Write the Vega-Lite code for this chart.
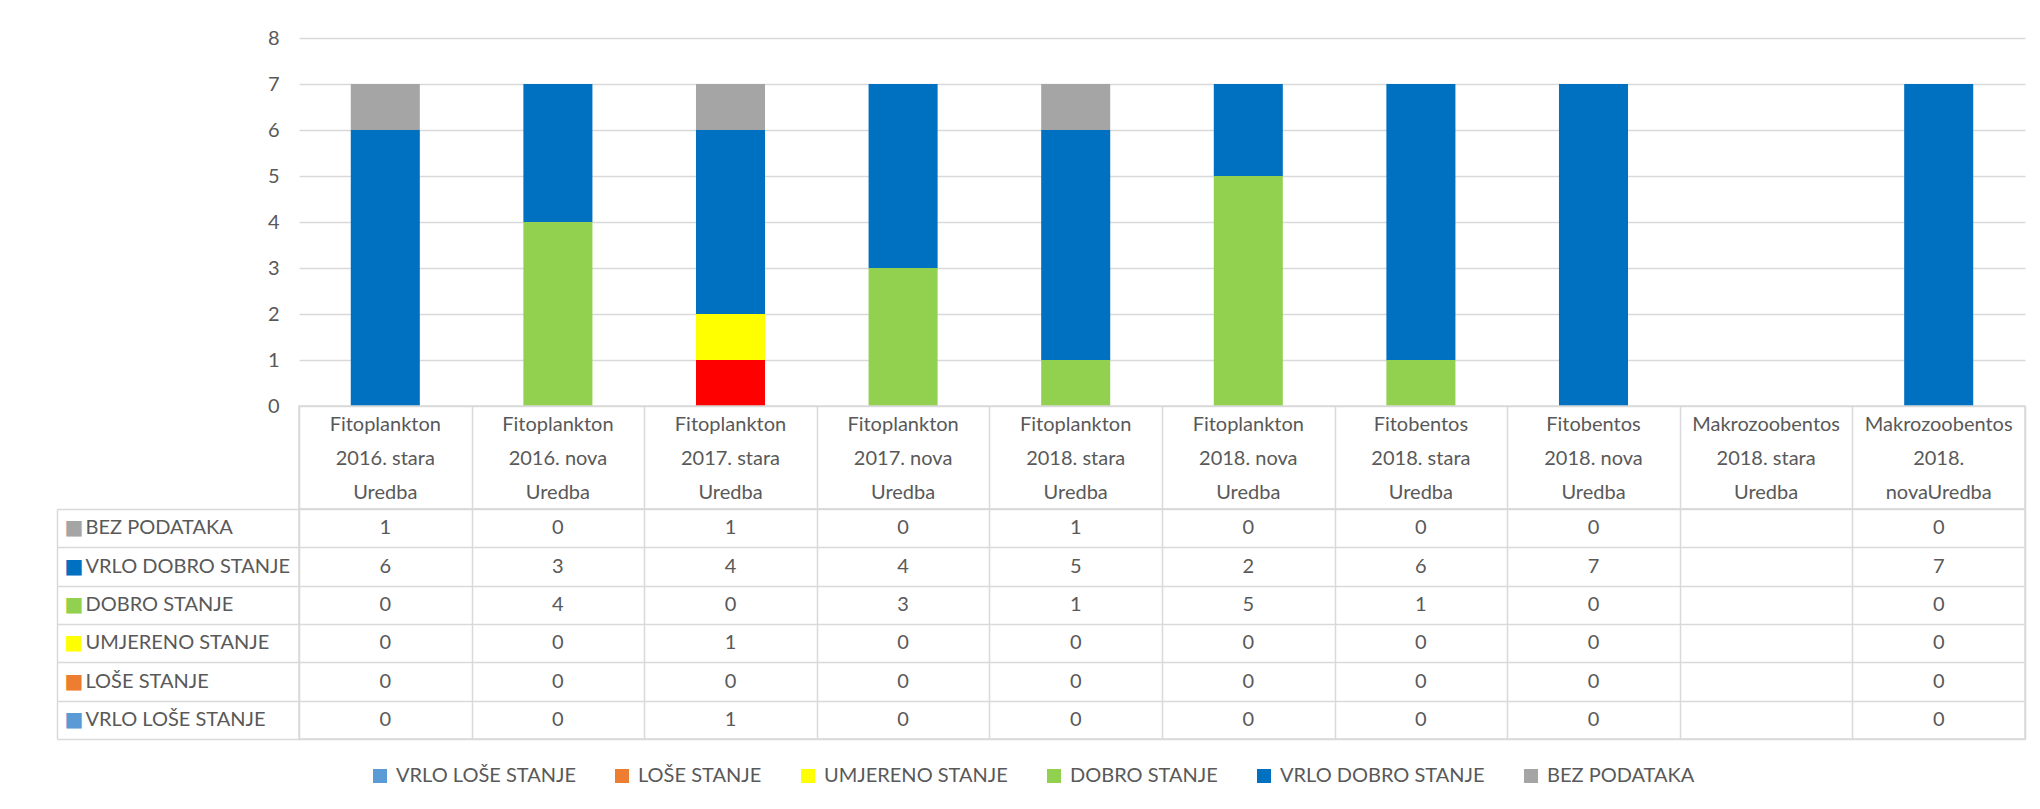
{
  "$schema": "https://vega.github.io/schema/vega-lite/v6.json",
  "padding": {"left": 55, "top": 28, "right": 10, "bottom": 10},
  "bounds": "flush",
  "spacing": 0,
  "config": {
    "font": "Lato",
    "view": {"stroke": "#d9d9d9", "strokeWidth": 1.5},
    "axis": {"labelFont": "Lato", "labelColor": "#595959", "labelFontSize": 20, "labelLimit": 400},
    "legend": {"labelFont": "Lato", "labelColor": "#595959", "labelFontSize": 20, "labelLimit": 400}
  },
  "datasets": {
    "cats": [
      {"cat": "Fitoplankton\n2016. stara\nUredba"},
      {"cat": "Fitoplankton\n2016. nova\nUredba"},
      {"cat": "Fitoplankton\n2017. stara\nUredba"},
      {"cat": "Fitoplankton\n2017. nova\nUredba"},
      {"cat": "Fitoplankton\n2018. stara\nUredba"},
      {"cat": "Fitoplankton\n2018. nova\nUredba"},
      {"cat": "Fitobentos\n2018. stara\nUredba"},
      {"cat": "Fitobentos\n2018. nova\nUredba"},
      {"cat": "Makrozoobentos\n2018. stara\nUredba"},
      {"cat": "Makrozoobentos\n2018.\nnovaUredba"}
    ],
    "d": [
      {"cat": "Fitoplankton\n2016. stara\nUredba", "series": "BEZ PODATAKA", "value": 1},
      {"cat": "Fitoplankton\n2016. stara\nUredba", "series": "VRLO DOBRO STANJE", "value": 6},
      {"cat": "Fitoplankton\n2016. stara\nUredba", "series": "DOBRO STANJE", "value": 0},
      {"cat": "Fitoplankton\n2016. stara\nUredba", "series": "UMJERENO STANJE", "value": 0},
      {"cat": "Fitoplankton\n2016. stara\nUredba", "series": "LOŠE STANJE", "value": 0},
      {"cat": "Fitoplankton\n2016. stara\nUredba", "series": "VRLO LOŠE STANJE", "value": 0},
      {"cat": "Fitoplankton\n2016. nova\nUredba", "series": "BEZ PODATAKA", "value": 0},
      {"cat": "Fitoplankton\n2016. nova\nUredba", "series": "VRLO DOBRO STANJE", "value": 3},
      {"cat": "Fitoplankton\n2016. nova\nUredba", "series": "DOBRO STANJE", "value": 4},
      {"cat": "Fitoplankton\n2016. nova\nUredba", "series": "UMJERENO STANJE", "value": 0},
      {"cat": "Fitoplankton\n2016. nova\nUredba", "series": "LOŠE STANJE", "value": 0},
      {"cat": "Fitoplankton\n2016. nova\nUredba", "series": "VRLO LOŠE STANJE", "value": 0},
      {"cat": "Fitoplankton\n2017. stara\nUredba", "series": "BEZ PODATAKA", "value": 1},
      {"cat": "Fitoplankton\n2017. stara\nUredba", "series": "VRLO DOBRO STANJE", "value": 4},
      {"cat": "Fitoplankton\n2017. stara\nUredba", "series": "DOBRO STANJE", "value": 0},
      {"cat": "Fitoplankton\n2017. stara\nUredba", "series": "UMJERENO STANJE", "value": 1},
      {"cat": "Fitoplankton\n2017. stara\nUredba", "series": "LOŠE STANJE", "value": 0},
      {"cat": "Fitoplankton\n2017. stara\nUredba", "series": "VRLO LOŠE STANJE", "value": 1},
      {"cat": "Fitoplankton\n2017. nova\nUredba", "series": "BEZ PODATAKA", "value": 0},
      {"cat": "Fitoplankton\n2017. nova\nUredba", "series": "VRLO DOBRO STANJE", "value": 4},
      {"cat": "Fitoplankton\n2017. nova\nUredba", "series": "DOBRO STANJE", "value": 3},
      {"cat": "Fitoplankton\n2017. nova\nUredba", "series": "UMJERENO STANJE", "value": 0},
      {"cat": "Fitoplankton\n2017. nova\nUredba", "series": "LOŠE STANJE", "value": 0},
      {"cat": "Fitoplankton\n2017. nova\nUredba", "series": "VRLO LOŠE STANJE", "value": 0},
      {"cat": "Fitoplankton\n2018. stara\nUredba", "series": "BEZ PODATAKA", "value": 1},
      {"cat": "Fitoplankton\n2018. stara\nUredba", "series": "VRLO DOBRO STANJE", "value": 5},
      {"cat": "Fitoplankton\n2018. stara\nUredba", "series": "DOBRO STANJE", "value": 1},
      {"cat": "Fitoplankton\n2018. stara\nUredba", "series": "UMJERENO STANJE", "value": 0},
      {"cat": "Fitoplankton\n2018. stara\nUredba", "series": "LOŠE STANJE", "value": 0},
      {"cat": "Fitoplankton\n2018. stara\nUredba", "series": "VRLO LOŠE STANJE", "value": 0},
      {"cat": "Fitoplankton\n2018. nova\nUredba", "series": "BEZ PODATAKA", "value": 0},
      {"cat": "Fitoplankton\n2018. nova\nUredba", "series": "VRLO DOBRO STANJE", "value": 2},
      {"cat": "Fitoplankton\n2018. nova\nUredba", "series": "DOBRO STANJE", "value": 5},
      {"cat": "Fitoplankton\n2018. nova\nUredba", "series": "UMJERENO STANJE", "value": 0},
      {"cat": "Fitoplankton\n2018. nova\nUredba", "series": "LOŠE STANJE", "value": 0},
      {"cat": "Fitoplankton\n2018. nova\nUredba", "series": "VRLO LOŠE STANJE", "value": 0},
      {"cat": "Fitobentos\n2018. stara\nUredba", "series": "BEZ PODATAKA", "value": 0},
      {"cat": "Fitobentos\n2018. stara\nUredba", "series": "VRLO DOBRO STANJE", "value": 6},
      {"cat": "Fitobentos\n2018. stara\nUredba", "series": "DOBRO STANJE", "value": 1},
      {"cat": "Fitobentos\n2018. stara\nUredba", "series": "UMJERENO STANJE", "value": 0},
      {"cat": "Fitobentos\n2018. stara\nUredba", "series": "LOŠE STANJE", "value": 0},
      {"cat": "Fitobentos\n2018. stara\nUredba", "series": "VRLO LOŠE STANJE", "value": 0},
      {"cat": "Fitobentos\n2018. nova\nUredba", "series": "BEZ PODATAKA", "value": 0},
      {"cat": "Fitobentos\n2018. nova\nUredba", "series": "VRLO DOBRO STANJE", "value": 7},
      {"cat": "Fitobentos\n2018. nova\nUredba", "series": "DOBRO STANJE", "value": 0},
      {"cat": "Fitobentos\n2018. nova\nUredba", "series": "UMJERENO STANJE", "value": 0},
      {"cat": "Fitobentos\n2018. nova\nUredba", "series": "LOŠE STANJE", "value": 0},
      {"cat": "Fitobentos\n2018. nova\nUredba", "series": "VRLO LOŠE STANJE", "value": 0},
      {"cat": "Makrozoobentos\n2018.\nnovaUredba", "series": "BEZ PODATAKA", "value": 0},
      {"cat": "Makrozoobentos\n2018.\nnovaUredba", "series": "VRLO DOBRO STANJE", "value": 7},
      {"cat": "Makrozoobentos\n2018.\nnovaUredba", "series": "DOBRO STANJE", "value": 0},
      {"cat": "Makrozoobentos\n2018.\nnovaUredba", "series": "UMJERENO STANJE", "value": 0},
      {"cat": "Makrozoobentos\n2018.\nnovaUredba", "series": "LOŠE STANJE", "value": 0},
      {"cat": "Makrozoobentos\n2018.\nnovaUredba", "series": "VRLO LOŠE STANJE", "value": 0}
    ]
  },
  "vconcat": [
    {
      "width": 1726,
      "height": 368,
      "view": {"stroke": null},
      "data": {"name": "d"},
      "transform": [
        {"calculate": "indexof(['VRLO LOŠE STANJE', 'LOŠE STANJE', 'UMJERENO STANJE', 'DOBRO STANJE', 'VRLO DOBRO STANJE', 'BEZ PODATAKA'], datum.series)", "as": "stackOrder"}
      ],
      "mark": {"type": "bar"},
      "encoding": {
        "x": {
          "field": "cat", "type": "nominal", "sort": null, "axis": null,
          "scale": {
            "domain": ["Fitoplankton\n2016. stara\nUredba", "Fitoplankton\n2016. nova\nUredba", "Fitoplankton\n2017. stara\nUredba", "Fitoplankton\n2017. nova\nUredba", "Fitoplankton\n2018. stara\nUredba", "Fitoplankton\n2018. nova\nUredba", "Fitobentos\n2018. stara\nUredba", "Fitobentos\n2018. nova\nUredba", "Makrozoobentos\n2018. stara\nUredba", "Makrozoobentos\n2018.\nnovaUredba"],
            "paddingInner": 0.6, "paddingOuter": 0.3
          }
        },
        "y": {
          "field": "value", "type": "quantitative", "stack": "zero",
          "scale": {"domain": [0, 8], "nice": false},
          "axis": {"values": [0, 1, 2, 3, 4, 5, 6, 7, 8], "title": null, "domain": false, "ticks": false, "labelPadding": 20, "grid": true, "gridColor": "#d9d9d9", "gridWidth": 1.5}
        },
        "order": {"field": "stackOrder", "type": "quantitative", "sort": "ascending"},
        "color": {
          "field": "series", "type": "nominal",
          "sort": ["VRLO LOŠE STANJE", "LOŠE STANJE", "UMJERENO STANJE", "DOBRO STANJE", "VRLO DOBRO STANJE", "BEZ PODATAKA"],
          "scale": {
            "domain": ["VRLO LOŠE STANJE", "LOŠE STANJE", "UMJERENO STANJE", "DOBRO STANJE", "VRLO DOBRO STANJE", "BEZ PODATAKA"],
            "range": ["#5B9BD5", "#ED7D31", "#FFFF00", "#92D050", "#0070C0", "#A5A5A5"]
          },
          "condition": {"test": "datum.series === 'VRLO LOŠE STANJE'", "value": "#FF0000"},
          "legend": {
            "orient": "none", "legendX": 71, "legendY": 728, "direction": "horizontal", "title": null,
            "symbolType": "square", "symbolSize": 196, "symbolStrokeWidth": 0,
            "columnPadding": 36, "labelOffset": 6, "padding": 0
          }
        }
      }
    },
    {
      "width": 1726,
      "height": 103,
      "data": {"name": "cats"},
      "mark": {"type": "text", "lineBreak": "\n", "lineHeight": 34, "fontSize": 20, "color": "#595959", "baseline": "middle", "dy": -33},
      "encoding": {
        "x": {
          "field": "cat", "type": "nominal", "sort": null,
          "scale": {
            "domain": ["Fitoplankton\n2016. stara\nUredba", "Fitoplankton\n2016. nova\nUredba", "Fitoplankton\n2017. stara\nUredba", "Fitoplankton\n2017. nova\nUredba", "Fitoplankton\n2018. stara\nUredba", "Fitoplankton\n2018. nova\nUredba", "Fitobentos\n2018. stara\nUredba", "Fitobentos\n2018. nova\nUredba", "Makrozoobentos\n2018. stara\nUredba", "Makrozoobentos\n2018.\nnovaUredba"],
            "padding": 0
          },
          "axis": {"grid": true, "tickBand": "extent", "labels": false, "ticks": false, "domain": false, "title": null, "gridColor": "#d9d9d9", "gridWidth": 1.5}
        },
        "text": {"field": "cat"}
      }
    },
    {
      "width": 1726,
      "height": 230,
      "data": {"name": "d"},
      "encoding": {
        "x": {
          "field": "cat", "type": "nominal", "sort": null,
          "scale": {
            "domain": ["Fitoplankton\n2016. stara\nUredba", "Fitoplankton\n2016. nova\nUredba", "Fitoplankton\n2017. stara\nUredba", "Fitoplankton\n2017. nova\nUredba", "Fitoplankton\n2018. stara\nUredba", "Fitoplankton\n2018. nova\nUredba", "Fitobentos\n2018. stara\nUredba", "Fitobentos\n2018. nova\nUredba", "Makrozoobentos\n2018. stara\nUredba", "Makrozoobentos\n2018.\nnovaUredba"],
            "padding": 0
          },
          "axis": {"grid": true, "tickBand": "extent", "labels": false, "ticks": false, "domain": false, "title": null, "gridColor": "#d9d9d9", "gridWidth": 1.5}
        }
      },
      "layer": [
        {
          "mark": {"type": "text", "fontSize": 20, "color": "#595959", "baseline": "middle"},
          "encoding": {
            "text": {"field": "value", "type": "quantitative"},
            "y": {
              "field": "series", "type": "nominal", "sort": null,
              "scale": {"domain": ["BEZ PODATAKA", "VRLO DOBRO STANJE", "DOBRO STANJE", "UMJERENO STANJE", "LOŠE STANJE", "VRLO LOŠE STANJE"], "padding": 0},
              "axis": {"orient": "left", "grid": true, "gridColor": "#d9d9d9", "gridWidth": 1.5, "tickBand": "extent", "ticks": true, "tickSize": 242, "tickColor": "#d9d9d9", "tickWidth": 1.5, "labels": false, "domain": false, "title": null}
            }
          }
        },
        {
          "mark": {"type": "text", "opacity": 0},
          "encoding": {
            "text": {"field": "value", "type": "quantitative"},
            "y": {
              "field": "series", "type": "nominal", "sort": null,
              "scale": {"domain": ["BEZ PODATAKA", "VRLO DOBRO STANJE", "DOBRO STANJE", "UMJERENO STANJE", "LOŠE STANJE", "VRLO LOŠE STANJE"], "padding": 0},
              "axis": {"orient": "left", "grid": false, "ticks": false, "domain": false, "title": null, "labelAlign": "left", "labelPadding": 214, "labelBaseline": "middle"}
            }
          }
        },
        {
          "mark": {"type": "text", "opacity": 0},
          "encoding": {
            "text": {"field": "value", "type": "quantitative"},
            "y": {
              "field": "series", "type": "nominal", "sort": null,
              "scale": {"domain": ["BEZ PODATAKA", "VRLO DOBRO STANJE", "DOBRO STANJE", "UMJERENO STANJE", "LOŠE STANJE", "VRLO LOŠE STANJE"], "padding": 0},
              "axis": {
                "orient": "left", "offset": 242, "grid": false, "ticks": false, "domain": true, "domainColor": "#d9d9d9", "domainWidth": 1.5, "title": null,
                "labelExpr": "'■'", "labelAlign": "left", "labelPadding": -7, "labelFont": "DejaVu Sans", "labelFontSize": 20, "labelBaseline": "middle",
                "labelColor": {
                  "condition": [
                    {"test": "datum.value === 'BEZ PODATAKA'", "value": "#A5A5A5"},
                    {"test": "datum.value === 'VRLO DOBRO STANJE'", "value": "#0070C0"},
                    {"test": "datum.value === 'DOBRO STANJE'", "value": "#92D050"},
                    {"test": "datum.value === 'UMJERENO STANJE'", "value": "#FFFF00"},
                    {"test": "datum.value === 'LOŠE STANJE'", "value": "#ED7D31"}
                  ],
                  "value": "#5B9BD5"
                }
              }
            }
          }
        }
      ],
      "resolve": {"axis": {"y": "independent"}}
    }
  ]
}
